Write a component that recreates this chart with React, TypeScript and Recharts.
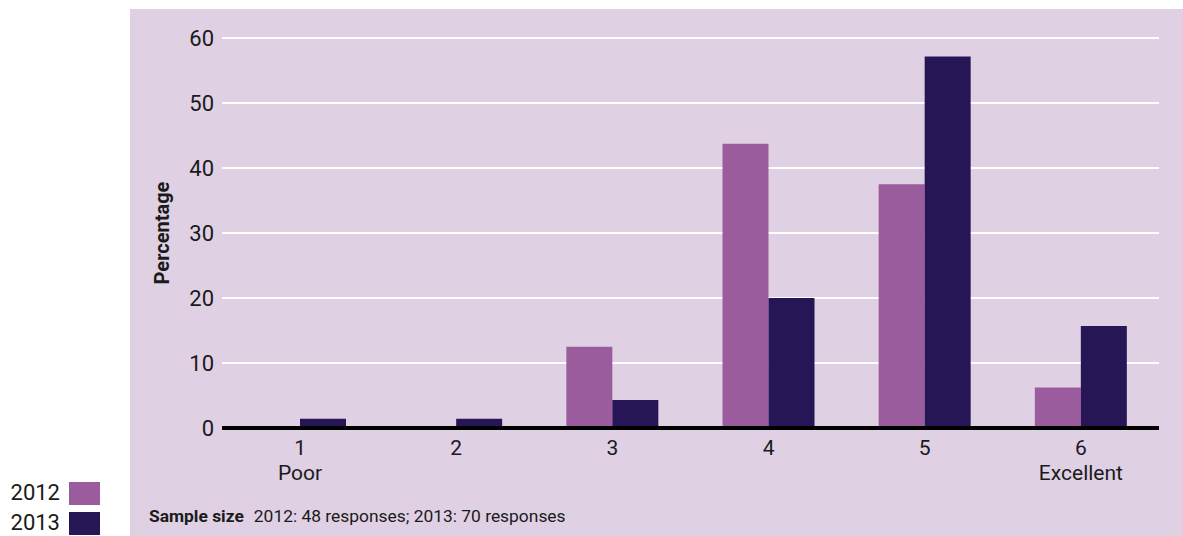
import { BarChart, Bar, XAxis, YAxis, CartesianGrid } from "recharts";

const categories = ["1", "2", "3", "4", "5", "6"];
const subLabels = ["Poor", "", "", "", "", "Excellent"];
const values2012 = [0, 0, 12.5, 43.75, 37.5, 6.25];
const values2013 = [1.43, 1.43, 4.29, 20, 57.14, 15.71];
const yTicks = [0, 10, 20, 30, 40, 50, 60];
const seriesYears = ["2012", "2013"];

const COLOR_2012 = "#9b5c9d";
const COLOR_2013 = "#271655";
const PANEL_BG = "#dfd0e4";
const TEXT = "#1a1a1a";
const FONT = "Roboto, sans-serif";

const data = categories.map((c, i) => ({
  name: c,
  sub: subLabels[i],
  y2012: values2012[i],
  y2013: values2013[i],
}));

// two-line tick: number on top, optional word below
function CategoryTick(props: any) {
  const { x, y, payload, index } = props;
  const sub = subLabels[index] || "";
  return (
    <text x={x} y={y} textAnchor="middle" fill={TEXT} fontSize={21} fontFamily={FONT}>
      <tspan x={x} dy="0.71em">{payload.value}</tspan>
      {sub && <tspan x={x} dy={25}>{sub}</tspan>}
    </text>
  );
}

export default function App() {
  const legendColors = [COLOR_2012, COLOR_2013];
  return (
    <div style={{ position: "absolute", left: 0, top: 0, width: 1183, height: 536, background: "#fff", overflow: "hidden", fontFamily: FONT }}>
      <div style={{ position: "absolute", left: 130, top: 9, right: 0, bottom: 0, background: PANEL_BG }} />
      <div style={{ position: "absolute", left: 0, top: 0 }}>
        <BarChart
          width={1183}
          height={536}
          data={data}
          margin={{ top: 38, right: 24, bottom: 48, left: 102 }}
          barGap={0}
        >
          <CartesianGrid vertical={false} stroke="#ffffff" strokeWidth={2} />
          <XAxis
            dataKey="name"
            height={60}
            axisLine={{ stroke: "#000", strokeWidth: 4 }}
            tickLine={false}
            tickMargin={6}
            tick={<CategoryTick />}
            interval={0}
          />
          <YAxis
            width={120}
            domain={[0, 60]}
            ticks={yTicks}
            axisLine={false}
            tickLine={false}
            tick={{ fill: TEXT, fontSize: 22, fontFamily: FONT }}
            label={{
              value: "Percentage",
              angle: -90,
              position: "center",
              fill: TEXT,
              fontSize: 20,
              fontWeight: 700,
              fontFamily: FONT,
            }}
          />
          <Bar dataKey="y2012" name="2012" fill={COLOR_2012} barSize={46} isAnimationActive={false} />
          <Bar dataKey="y2013" name="2013" fill={COLOR_2013} barSize={46} isAnimationActive={false} />
        </BarChart>
      </div>
      <div style={{ position: "absolute", left: 149, top: 506, fontSize: 17.4, lineHeight: "20px", color: TEXT, whiteSpace: "nowrap" }}>
        <span style={{ fontWeight: 700 }}>Sample size</span>
        <span style={{ marginLeft: 10 }}>2012: 48 responses; 2013: 70 responses</span>
      </div>
      <div style={{ position: "absolute", left: 10, top: 482 }}>
        {seriesYears.map((yr, i) => (
          <div key={yr} style={{ display: "flex", alignItems: "flex-start", height: 30 }}>
            <span style={{ fontSize: 22, lineHeight: "21px", color: TEXT, width: 50, textAlign: "right" }}>{yr}</span>
            <span style={{ width: 31, height: 23, marginLeft: 9, background: legendColors[i] }} />
          </div>
        ))}
      </div>
    </div>
  );
}
